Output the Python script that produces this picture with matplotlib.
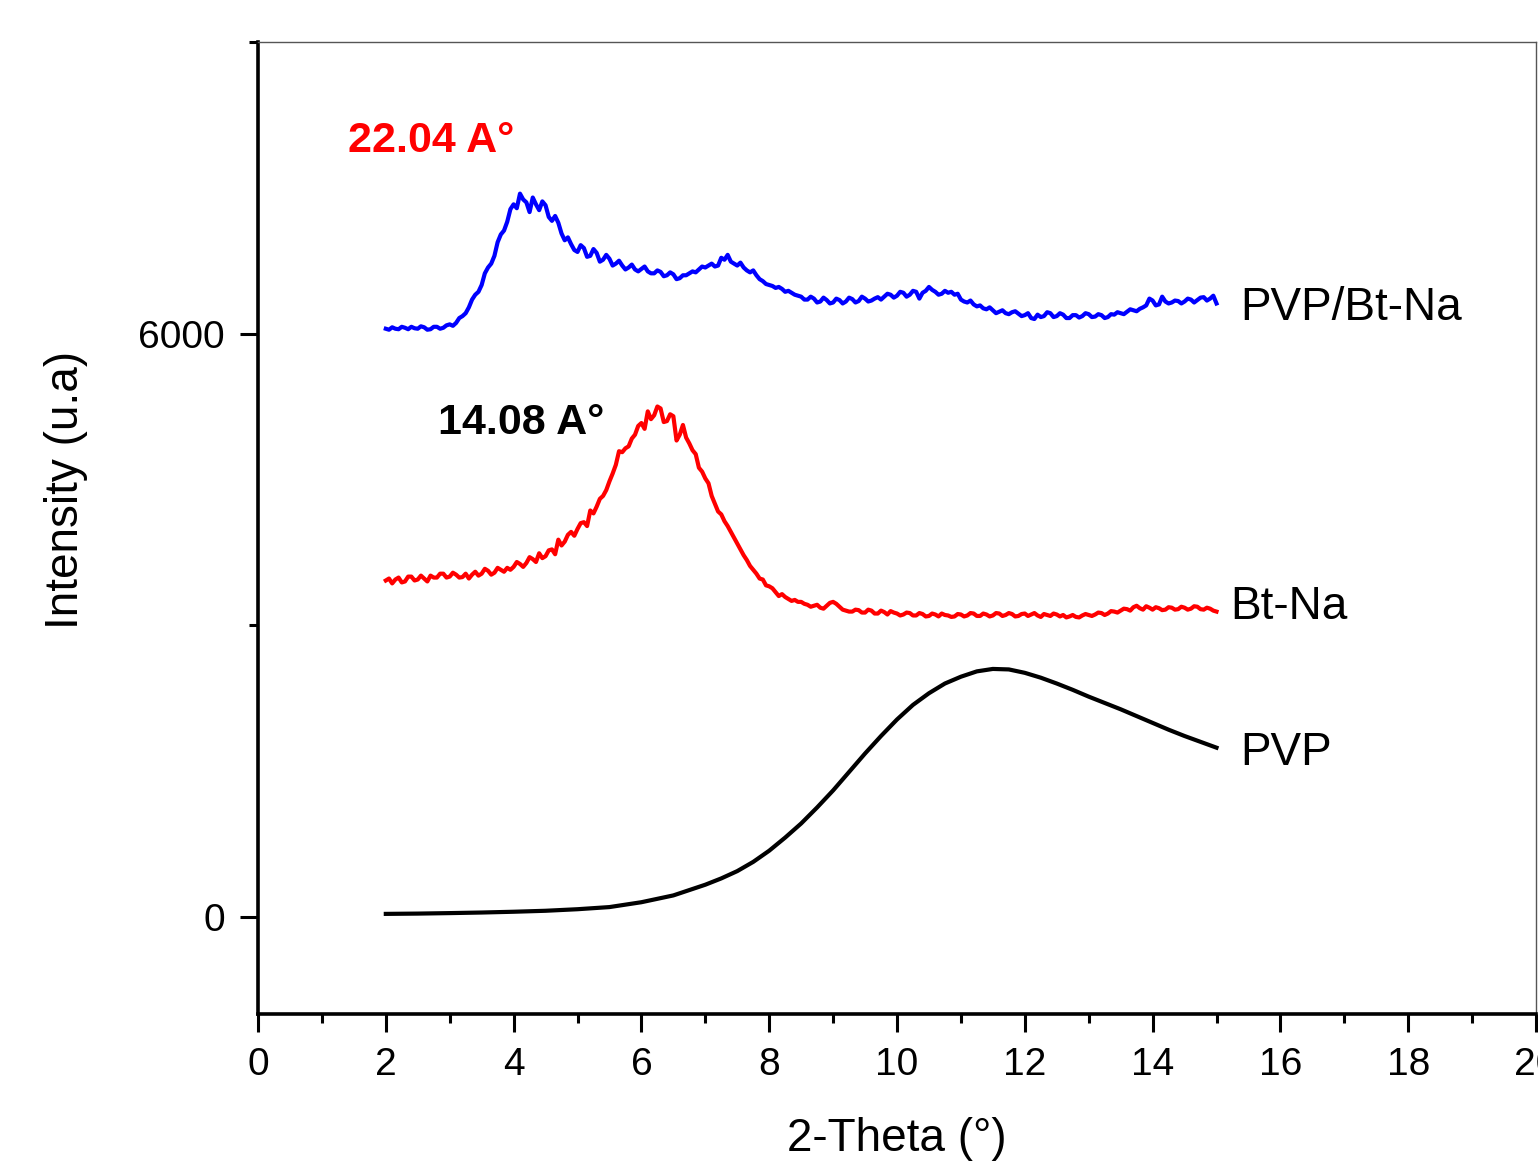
import numpy as np
import matplotlib.pyplot as plt
from matplotlib.ticker import MultipleLocator

plt.rcParams['font.family'] = ['Liberation Sans', 'DejaVu Sans']

# 2-theta sampling grid of the two clay scans (step 0.05 deg)
two_theta = np.round(np.arange(2.0, 15.025, 0.05), 2)

# PVP/Bt-Na intensities
pvp_btna = [
    6050, 6040, 6065, 6050, 6045, 6070, 6060, 6045, 6070, 6055,
    6050, 6075, 6065, 6040, 6045, 6070, 6070, 6050, 6060, 6085,
    6095, 6080, 6110, 6160, 6180, 6210, 6270, 6350, 6400, 6430,
    6500, 6620, 6680, 6720, 6800, 6940, 7020, 7060, 7150, 7280,
    7330, 7290, 7440, 7380, 7350, 7250, 7400, 7330, 7270, 7360,
    7320, 7200, 7160, 7210, 7140, 7030, 6960, 6990, 6920, 6860,
    6840, 6910, 6880, 6790, 6800, 6870, 6830, 6740, 6760, 6810,
    6770, 6700, 6720, 6750, 6700, 6660, 6680, 6710, 6660, 6640,
    6665, 6690, 6640, 6620, 6620, 6650, 6635, 6590, 6600, 6630,
    6610, 6560, 6570, 6600, 6600, 6620, 6640, 6630, 6660, 6690,
    6680, 6700, 6720, 6690, 6700, 6780, 6760, 6810, 6740, 6720,
    6700, 6730, 6680, 6650, 6630, 6650, 6600, 6560, 6540, 6510,
    6500, 6490, 6470, 6480, 6460, 6430, 6440, 6420, 6400, 6390,
    6380, 6350, 6350, 6380, 6360, 6320, 6330, 6370, 6345, 6310,
    6320, 6360, 6345, 6310, 6330, 6370, 6355, 6320, 6335, 6380,
    6360, 6330, 6340, 6360, 6375, 6350, 6380, 6410, 6400, 6370,
    6390, 6430, 6420, 6380, 6400, 6440, 6430, 6360, 6420, 6440,
    6480, 6450, 6430, 6400, 6410, 6440, 6420, 6430, 6400, 6410,
    6350, 6330, 6320, 6340, 6300, 6280, 6290, 6260, 6250, 6270,
    6240, 6210, 6225, 6240, 6210, 6200, 6220, 6230, 6205, 6180,
    6190, 6210, 6160, 6150, 6195, 6170, 6180, 6220, 6210, 6170,
    6180, 6210, 6195, 6160, 6160, 6190, 6190, 6165, 6180, 6210,
    6200, 6170, 6175, 6200, 6190, 6160, 6170, 6200, 6195, 6220,
    6210, 6200, 6225, 6250, 6240, 6230, 6255, 6270, 6290, 6360,
    6340, 6290, 6300, 6380, 6330, 6310, 6320, 6340, 6335, 6310,
    6330, 6360, 6350, 6320, 6345, 6370, 6375, 6340, 6360, 6390,
    6310,
]

# Bt-Na intensities
btna = [
    3460, 3480, 3430, 3470, 3490, 3440, 3450, 3500, 3500, 3460,
    3470, 3510, 3480, 3450, 3510, 3490, 3490, 3530, 3530, 3490,
    3500, 3540, 3520, 3490, 3495, 3530, 3480, 3520, 3550, 3510,
    3530, 3580, 3560, 3520, 3540, 3590, 3570, 3550, 3590, 3570,
    3600, 3650, 3630, 3600, 3640, 3700, 3680, 3650, 3740, 3690,
    3710, 3770, 3780, 3730, 3880, 3820, 3860, 3930, 3960, 3920,
    3990, 4050, 4060, 4020, 4180, 4150, 4220, 4300, 4330, 4390,
    4480, 4560, 4650, 4790, 4780, 4820, 4840, 4920, 4960, 5050,
    5080, 5020, 5200, 5120, 5160, 5250, 5230, 5090, 5100, 5170,
    5150, 4900, 4960, 5060, 4930, 4870, 4800, 4760, 4620, 4580,
    4510, 4460, 4330, 4250, 4170, 4140, 4070, 4020, 3960, 3900,
    3840, 3780, 3720, 3670, 3610, 3570, 3530, 3480, 3470, 3410,
    3400, 3380, 3340, 3300, 3320, 3290, 3270, 3250, 3260, 3240,
    3240, 3220, 3210, 3190, 3200, 3210, 3180, 3170, 3200, 3230,
    3240, 3220, 3190, 3160, 3150, 3140, 3140, 3160, 3155, 3130,
    3130, 3160, 3150, 3120, 3120, 3150, 3135, 3110, 3145, 3130,
    3120, 3100, 3110, 3130, 3125, 3100, 3100, 3125, 3115, 3090,
    3095, 3120, 3110, 3090, 3120, 3105, 3100, 3085, 3090, 3115,
    3110, 3090, 3100, 3125, 3120, 3095, 3095, 3120, 3110, 3090,
    3100, 3125, 3120, 3095, 3105, 3125, 3115, 3090, 3095, 3115,
    3120, 3095, 3110, 3125, 3100, 3085, 3115, 3105, 3095, 3120,
    3110, 3090, 3105, 3080, 3090, 3105, 3085, 3080, 3100, 3115,
    3105, 3095, 3110, 3130, 3125, 3105, 3120, 3145, 3140, 3130,
    3150, 3170, 3165, 3150, 3185, 3200, 3175, 3160, 3195, 3180,
    3160, 3185, 3175, 3155, 3160, 3185, 3180, 3160, 3165, 3190,
    3180, 3160, 3170, 3195, 3190, 3165, 3160, 3180, 3170, 3150,
    3140,
]

# PVP (smooth amorphous halo)
pvp_x = [2.0, 2.5, 3.0, 3.5, 4.0, 4.5, 5.0, 5.5, 6.0, 6.5,
         7.0, 7.25, 7.5, 7.75, 8.0, 8.25, 8.5, 8.75, 9.0, 9.25,
         9.5, 9.75, 10.0, 10.25, 10.5, 10.75, 11.0, 11.25, 11.5, 11.75,
         12.0, 12.25, 12.5, 12.75, 13.0, 13.25, 13.5, 13.75, 14.0, 14.25,
         14.5, 14.75, 15.0]
pvp = [30, 33, 38, 44, 52, 62, 78, 100, 150, 220,
       330, 395, 470, 565, 680, 815, 960, 1125, 1300, 1490,
       1680, 1860, 2030, 2180, 2300, 2400, 2470, 2525, 2550, 2545,
       2510, 2460, 2400, 2335, 2265, 2200, 2135, 2065, 1995, 1925,
       1860, 1800, 1740]

fig = plt.figure(figsize=(15.38, 11.61), dpi=100)
ax = fig.add_axes([258 / 1538, 1 - 1014 / 1161, 1278 / 1538, 972 / 1161])

ax.plot(two_theta, pvp_btna, color='#0000ff', lw=3.0)
ax.plot(two_theta, btna, color='#ff0000', lw=3.0)
ax.plot(pvp_x, pvp, color='black', lw=3.0)

ax.set_xlim(0, 20)
ax.set_ylim(-1000, 9000)
ax.xaxis.set_major_locator(MultipleLocator(2))
ax.xaxis.set_minor_locator(MultipleLocator(1))
ax.yaxis.set_major_locator(MultipleLocator(6000))
ax.yaxis.set_minor_locator(MultipleLocator(3000))

for side in ['left', 'bottom']:
    ax.spines[side].set_linewidth(2.6)
for side in ['top', 'right']:
    ax.spines[side].set_linewidth(1.0)
    ax.spines[side].set_color('#555555')

ax.tick_params(which='major', direction='out', length=13, width=2.2,
               labelsize=28, pad=11)
ax.tick_params(which='minor', direction='out', length=6.5, width=2.2)

ax.set_xlabel('2-Theta (°)', fontsize=33)
ax.set_ylabel('Intensity (u.a)', fontsize=33)
ax.xaxis.set_label_coords(0.5, -0.106)
ax.yaxis.set_label_coords(-0.133, 0.539)

# d-spacing notes
ax.text(1.41, 7985, '22.04 A°', color='#ff0000', fontsize=31,
        fontweight='bold', va='center', ha='left')
ax.text(2.82, 5083, '14.08 A°', color='black', fontsize=31,
        fontweight='bold', va='center', ha='left')

# curve names
ax.text(15.37, 6267, 'PVP/Bt-Na', fontsize=33, va='center', ha='left')
ax.text(15.21, 3190, 'Bt-Na', fontsize=33, va='center', ha='left')
ax.text(15.37, 1688, 'PVP', fontsize=33, va='center', ha='left')

fig.savefig('out.png', dpi=100)
